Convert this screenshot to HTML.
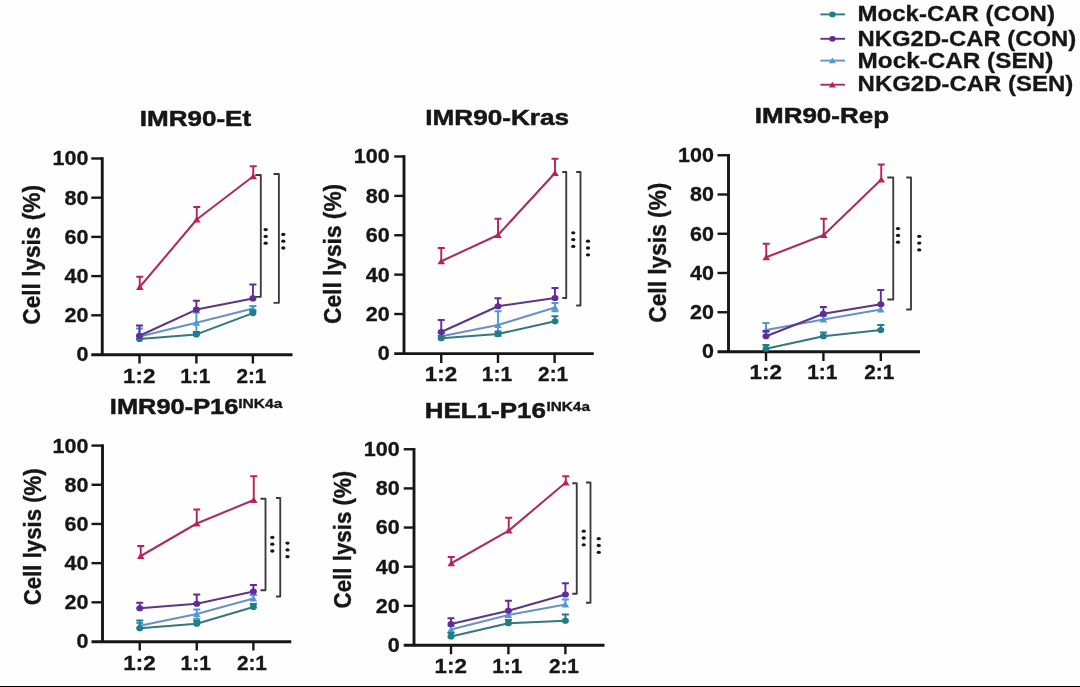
<!DOCTYPE html>
<html lang="en">
<head>
<meta charset="utf-8">
<title>Cell lysis (%) - CAR-T cytotoxicity panels</title>
<style>
  html, body { margin: 0; padding: 0; background: #fefefe; }
  body { width: 1080px; height: 687px; overflow: hidden; position: relative;
         font-family: "Liberation Sans", sans-serif; }
  svg { position: absolute; left: 0; top: 0; display: block; }
  svg text { font-family: "Liberation Sans", sans-serif; font-weight: bold; fill: #161616; stroke: #161616; stroke-width: 0.3px; }
  svg text.tt { stroke-width: 0.5px; }
  svg text.yl { stroke-width: 0.4px; }
  svg text.lg { stroke-width: 0.3px; }
  #chart { filter: blur(0.7px); }
  #rule { position: absolute; left: 0; top: 685.7px; width: 1080px; height: 1.3px; background: #000; }
</style>
</head>
<body>
<svg id="chart" width="1080" height="687" viewBox="0 0 1080 687">
<!-- panel IMR90-Et -->
<path d="M102.25 157.2 V355.8" stroke="#161616" stroke-width="2.9" fill="none"/>
<path d="M91.25 354.7 H292.5" stroke="#161616" stroke-width="2.9" fill="none"/>
<path d="M91.25 158.50 H102.25" stroke="#161616" stroke-width="2.4" fill="none"/>
<text x="52.51" y="165.4" font-size="19.3" text-anchor="start" textLength="35.87" lengthAdjust="spacingAndGlyphs">100</text>
<path d="M91.25 197.70 H102.25" stroke="#161616" stroke-width="2.4" fill="none"/>
<text x="64.49" y="204.6" font-size="19.3" text-anchor="start" textLength="23.92" lengthAdjust="spacingAndGlyphs">80</text>
<path d="M91.25 236.90 H102.25" stroke="#161616" stroke-width="2.4" fill="none"/>
<text x="64.49" y="243.8" font-size="19.3" text-anchor="start" textLength="23.92" lengthAdjust="spacingAndGlyphs">60</text>
<path d="M91.25 276.10 H102.25" stroke="#161616" stroke-width="2.4" fill="none"/>
<text x="64.49" y="283.0" font-size="19.3" text-anchor="start" textLength="23.92" lengthAdjust="spacingAndGlyphs">40</text>
<path d="M91.25 315.30 H102.25" stroke="#161616" stroke-width="2.4" fill="none"/>
<text x="64.49" y="322.2" font-size="19.3" text-anchor="start" textLength="23.92" lengthAdjust="spacingAndGlyphs">20</text>
<text x="76.43" y="361.4" font-size="19.3" text-anchor="start" textLength="11.96" lengthAdjust="spacingAndGlyphs">0</text>
<path d="M139.5 354.5 V363.5" stroke="#161616" stroke-width="2.4" fill="none"/>
<text x="123.1" y="382.9" font-size="19.3" text-anchor="start" textLength="32.3" lengthAdjust="spacingAndGlyphs">1:2</text>
<path d="M196.4 354.5 V363.5" stroke="#161616" stroke-width="2.4" fill="none"/>
<text x="180.19" y="382.9" font-size="19.3" text-anchor="start" textLength="30.29" lengthAdjust="spacingAndGlyphs">1:1</text>
<path d="M252.9 354.5 V363.5" stroke="#161616" stroke-width="2.4" fill="none"/>
<text x="236.42" y="382.9" font-size="19.3" text-anchor="start" textLength="30.01" lengthAdjust="spacingAndGlyphs">2:1</text>
<text x="139.79" y="126.2" font-size="21.9" text-anchor="start" textLength="111.3" lengthAdjust="spacingAndGlyphs" class="tt">IMR90-Et</text>
<text class="yl" transform="translate(40.0 324.65) rotate(-90)" font-size="24.6" textLength="139.57" lengthAdjust="spacingAndGlyphs">Cell lysis (%)</text>
<path d="M255.3 175 H260.8 V296.8 H255.3" fill="none" stroke-linejoin="round" stroke="#3a3a3a" stroke-width="1.85"/>
<path d="M273.5 174 H278.9 V302.8 H273.5" fill="none" stroke-linejoin="round" stroke="#3a3a3a" stroke-width="1.85"/>
<ellipse cx="265.7" cy="229.6" rx="2.15" ry="1.65" fill="#161616"/>
<ellipse cx="265.7" cy="236.4" rx="2.15" ry="1.65" fill="#161616"/>
<ellipse cx="265.7" cy="243.20000000000002" rx="2.15" ry="1.65" fill="#161616"/>
<ellipse cx="283.3" cy="234.39999999999998" rx="2.15" ry="1.65" fill="#161616"/>
<ellipse cx="283.3" cy="241.2" rx="2.15" ry="1.65" fill="#161616"/>
<ellipse cx="283.3" cy="248.0" rx="2.15" ry="1.65" fill="#161616"/>
<path d="M139.5 336.5 L196.4 322.8 L252.9 308.5" fill="none" stroke="#6892c0" stroke-width="2.05" stroke-linejoin="round"/>
<path d="M139.5 336.5 V328.5 M136.0 328.5 H143.0" fill="none" stroke="#4f99d2" stroke-width="1.9"/>
<path d="M196.4 322.8 V312.5 M192.9 312.5 H199.9" fill="none" stroke="#4f99d2" stroke-width="1.9"/>
<path d="M196.4 322.8 V332 M192.9 332 H199.9" fill="none" stroke="#4f99d2" stroke-width="1.9"/>
<path d="M252.9 308.5 V306 M249.4 306 H256.4" fill="none" stroke="#4f99d2" stroke-width="1.9"/>
<path d="M139.5 333.20 L143.30 339.50 L135.70 339.50 Z" fill="#4f99d2"/>
<path d="M196.4 319.50 L200.20 325.80 L192.60 325.80 Z" fill="#4f99d2"/>
<path d="M252.9 305.20 L256.70 311.50 L249.10 311.50 Z" fill="#4f99d2"/>
<path d="M139.5 339 L196.4 334.4 L252.9 313.1" fill="none" stroke="#34787b" stroke-width="2.05" stroke-linejoin="round"/>
<path d="M139.5 339 V336 M136.0 336 H143.0" fill="none" stroke="#1f7f88" stroke-width="1.9"/>
<path d="M196.4 334.4 V332 M192.9 332 H199.9" fill="none" stroke="#1f7f88" stroke-width="1.9"/>
<path d="M252.9 313.1 V310.5 M249.4 310.5 H256.4" fill="none" stroke="#1f7f88" stroke-width="1.9"/>
<ellipse cx="139.5" cy="339" rx="3.50" ry="3.10" fill="#1f7f88"/>
<ellipse cx="196.4" cy="334.4" rx="3.50" ry="3.10" fill="#1f7f88"/>
<ellipse cx="252.9" cy="313.1" rx="3.50" ry="3.10" fill="#1f7f88"/>
<path d="M139.5 335.75 L196.4 309.6 L252.9 298.4" fill="none" stroke="#5a3784" stroke-width="2.05" stroke-linejoin="round"/>
<path d="M139.5 335.75 V325.5 M136.0 325.5 H143.0" fill="none" stroke="#642a9a" stroke-width="1.9"/>
<path d="M196.4 309.6 V300.8 M192.9 300.8 H199.9" fill="none" stroke="#642a9a" stroke-width="1.9"/>
<path d="M252.9 298.4 V284.5 M249.4 284.5 H256.4" fill="none" stroke="#642a9a" stroke-width="1.9"/>
<ellipse cx="139.5" cy="335.75" rx="3.50" ry="3.10" fill="#642a9a"/>
<ellipse cx="196.4" cy="309.6" rx="3.50" ry="3.10" fill="#642a9a"/>
<ellipse cx="252.9" cy="298.4" rx="3.50" ry="3.10" fill="#642a9a"/>
<path d="M139.75 287 L196.75 219.5 L253.25 176.25" fill="none" stroke="#ab2c60" stroke-width="2.05" stroke-linejoin="round"/>
<path d="M139.75 287 V276.75 M136.25 276.75 H143.25" fill="none" stroke="#bc205a" stroke-width="1.9"/>
<path d="M196.75 219.5 V207 M193.25 207 H200.25" fill="none" stroke="#bc205a" stroke-width="1.9"/>
<path d="M253.25 176.25 V166.25 M249.75 166.25 H256.75" fill="none" stroke="#bc205a" stroke-width="1.9"/>
<path d="M139.75 283.70 L143.55 290.00 L135.95 290.00 Z" fill="#bc205a"/>
<path d="M196.75 216.20 L200.55 222.50 L192.95 222.50 Z" fill="#bc205a"/>
<path d="M253.25 172.95 L257.05 179.25 L249.45 179.25 Z" fill="#bc205a"/>
<!-- panel IMR90-Kras -->
<path d="M404 155.2 V354.7" stroke="#161616" stroke-width="2.9" fill="none"/>
<path d="M394.25 353.59999999999997 H593.75" stroke="#161616" stroke-width="2.9" fill="none"/>
<path d="M394.25 156.50 H404" stroke="#161616" stroke-width="2.4" fill="none"/>
<text x="353.76" y="163.4" font-size="19.3" text-anchor="start" textLength="35.87" lengthAdjust="spacingAndGlyphs">100</text>
<path d="M394.25 195.88 H404" stroke="#161616" stroke-width="2.4" fill="none"/>
<text x="365.74" y="202.78" font-size="19.3" text-anchor="start" textLength="23.92" lengthAdjust="spacingAndGlyphs">80</text>
<path d="M394.25 235.26 H404" stroke="#161616" stroke-width="2.4" fill="none"/>
<text x="365.74" y="242.16" font-size="19.3" text-anchor="start" textLength="23.92" lengthAdjust="spacingAndGlyphs">60</text>
<path d="M394.25 274.64 H404" stroke="#161616" stroke-width="2.4" fill="none"/>
<text x="365.74" y="281.54" font-size="19.3" text-anchor="start" textLength="23.92" lengthAdjust="spacingAndGlyphs">40</text>
<path d="M394.25 314.02 H404" stroke="#161616" stroke-width="2.4" fill="none"/>
<text x="365.74" y="320.92" font-size="19.3" text-anchor="start" textLength="23.92" lengthAdjust="spacingAndGlyphs">20</text>
<text x="377.68" y="360.3" font-size="19.3" text-anchor="start" textLength="11.96" lengthAdjust="spacingAndGlyphs">0</text>
<path d="M441.25 353.4 V363.0" stroke="#161616" stroke-width="2.4" fill="none"/>
<text x="424.85" y="381.3" font-size="19.3" text-anchor="start" textLength="32.3" lengthAdjust="spacingAndGlyphs">1:2</text>
<path d="M498 353.4 V363.0" stroke="#161616" stroke-width="2.4" fill="none"/>
<text x="481.79" y="381.3" font-size="19.3" text-anchor="start" textLength="30.29" lengthAdjust="spacingAndGlyphs">1:1</text>
<path d="M554.6 353.4 V363.0" stroke="#161616" stroke-width="2.4" fill="none"/>
<text x="538.12" y="381.3" font-size="19.3" text-anchor="start" textLength="30.01" lengthAdjust="spacingAndGlyphs">2:1</text>
<text x="425.29" y="125.2" font-size="21.9" text-anchor="start" textLength="143.81" lengthAdjust="spacingAndGlyphs" class="tt">IMR90-Kras</text>
<text class="yl" transform="translate(341.25 323.91) rotate(-90)" font-size="24.6" textLength="140.08" lengthAdjust="spacingAndGlyphs">Cell lysis (%)</text>
<path d="M562.3 172 H566.25 V298 H562.3" fill="none" stroke-linejoin="round" stroke="#3a3a3a" stroke-width="1.85"/>
<path d="M576.2 172 H580.5 V305.5 H576.2" fill="none" stroke-linejoin="round" stroke="#3a3a3a" stroke-width="1.85"/>
<ellipse cx="573.25" cy="232.79999999999998" rx="2.15" ry="1.65" fill="#161616"/>
<ellipse cx="573.25" cy="239.6" rx="2.15" ry="1.65" fill="#161616"/>
<ellipse cx="573.25" cy="246.4" rx="2.15" ry="1.65" fill="#161616"/>
<ellipse cx="588" cy="241.2" rx="2.15" ry="1.65" fill="#161616"/>
<ellipse cx="588" cy="248" rx="2.15" ry="1.65" fill="#161616"/>
<ellipse cx="588" cy="254.8" rx="2.15" ry="1.65" fill="#161616"/>
<path d="M441.25 336.25 L498 325 L555 307.5" fill="none" stroke="#6892c0" stroke-width="2.05" stroke-linejoin="round"/>
<path d="M441.25 336.25 V333 M437.75 333 H444.75" fill="none" stroke="#4f99d2" stroke-width="1.9"/>
<path d="M498 325 V311.2 M494.5 311.2 H501.5" fill="none" stroke="#4f99d2" stroke-width="1.9"/>
<path d="M498 325 V336 M494.5 336 H501.5" fill="none" stroke="#4f99d2" stroke-width="1.9"/>
<path d="M555 307.5 V303 M551.5 303 H558.5" fill="none" stroke="#4f99d2" stroke-width="1.9"/>
<path d="M555 307.5 V311.4 M551.5 311.4 H558.5" fill="none" stroke="#4f99d2" stroke-width="1.9"/>
<path d="M441.25 332.95 L445.05 339.25 L437.45 339.25 Z" fill="#4f99d2"/>
<path d="M498 321.70 L501.80 328.00 L494.20 328.00 Z" fill="#4f99d2"/>
<path d="M555 304.20 L558.80 310.50 L551.20 310.50 Z" fill="#4f99d2"/>
<path d="M441.25 338.25 L498 334 L555 321.25" fill="none" stroke="#34787b" stroke-width="2.05" stroke-linejoin="round"/>
<path d="M441.25 338.25 V336 M437.75 336 H444.75" fill="none" stroke="#1f7f88" stroke-width="1.9"/>
<path d="M498 334 V331.5 M494.5 331.5 H501.5" fill="none" stroke="#1f7f88" stroke-width="1.9"/>
<path d="M555 321.25 V316.25 M551.5 316.25 H558.5" fill="none" stroke="#1f7f88" stroke-width="1.9"/>
<ellipse cx="441.25" cy="338.25" rx="3.50" ry="3.10" fill="#1f7f88"/>
<ellipse cx="498" cy="334" rx="3.50" ry="3.10" fill="#1f7f88"/>
<ellipse cx="555" cy="321.25" rx="3.50" ry="3.10" fill="#1f7f88"/>
<path d="M441.25 332 L498 306.25 L555 298" fill="none" stroke="#5a3784" stroke-width="2.05" stroke-linejoin="round"/>
<path d="M441.25 332 V320 M437.75 320 H444.75" fill="none" stroke="#642a9a" stroke-width="1.9"/>
<path d="M498 306.25 V298.25 M494.5 298.25 H501.5" fill="none" stroke="#642a9a" stroke-width="1.9"/>
<path d="M555 298 V288 M551.5 288 H558.5" fill="none" stroke="#642a9a" stroke-width="1.9"/>
<ellipse cx="441.25" cy="332" rx="3.50" ry="3.10" fill="#642a9a"/>
<ellipse cx="498" cy="306.25" rx="3.50" ry="3.10" fill="#642a9a"/>
<ellipse cx="555" cy="298" rx="3.50" ry="3.10" fill="#642a9a"/>
<path d="M441.25 261.25 L498 235 L555 173" fill="none" stroke="#ab2c60" stroke-width="2.05" stroke-linejoin="round"/>
<path d="M441.25 261.25 V248 M437.75 248 H444.75" fill="none" stroke="#bc205a" stroke-width="1.9"/>
<path d="M498 235 V218.75 M494.5 218.75 H501.5" fill="none" stroke="#bc205a" stroke-width="1.9"/>
<path d="M555 173 V158.75 M551.5 158.75 H558.5" fill="none" stroke="#bc205a" stroke-width="1.9"/>
<path d="M441.25 257.95 L445.05 264.25 L437.45 264.25 Z" fill="#bc205a"/>
<path d="M498 231.70 L501.80 238.00 L494.20 238.00 Z" fill="#bc205a"/>
<path d="M555 169.70 L558.80 176.00 L551.20 176.00 Z" fill="#bc205a"/>
<!-- panel IMR90-Rep -->
<path d="M728.5 153.95 V352.8" stroke="#161616" stroke-width="2.9" fill="none"/>
<path d="M717.5 351.7 H920" stroke="#161616" stroke-width="2.9" fill="none"/>
<path d="M717.5 155.25 H728.5" stroke="#161616" stroke-width="2.4" fill="none"/>
<text x="678.01" y="162.15" font-size="19.3" text-anchor="start" textLength="35.87" lengthAdjust="spacingAndGlyphs">100</text>
<path d="M717.5 194.50 H728.5" stroke="#161616" stroke-width="2.4" fill="none"/>
<text x="689.99" y="201.4" font-size="19.3" text-anchor="start" textLength="23.92" lengthAdjust="spacingAndGlyphs">80</text>
<path d="M717.5 233.75 H728.5" stroke="#161616" stroke-width="2.4" fill="none"/>
<text x="689.99" y="240.65" font-size="19.3" text-anchor="start" textLength="23.92" lengthAdjust="spacingAndGlyphs">60</text>
<path d="M717.5 273.00 H728.5" stroke="#161616" stroke-width="2.4" fill="none"/>
<text x="689.99" y="279.9" font-size="19.3" text-anchor="start" textLength="23.92" lengthAdjust="spacingAndGlyphs">40</text>
<path d="M717.5 312.25 H728.5" stroke="#161616" stroke-width="2.4" fill="none"/>
<text x="689.99" y="319.15" font-size="19.3" text-anchor="start" textLength="23.92" lengthAdjust="spacingAndGlyphs">20</text>
<text x="701.93" y="358.4" font-size="19.3" text-anchor="start" textLength="11.96" lengthAdjust="spacingAndGlyphs">0</text>
<path d="M766 351.5 V361.0" stroke="#161616" stroke-width="2.4" fill="none"/>
<text x="749.6" y="379.3" font-size="19.3" text-anchor="start" textLength="32.3" lengthAdjust="spacingAndGlyphs">1:2</text>
<path d="M823.4 351.5 V361.0" stroke="#161616" stroke-width="2.4" fill="none"/>
<text x="807.19" y="379.3" font-size="19.3" text-anchor="start" textLength="30.29" lengthAdjust="spacingAndGlyphs">1:1</text>
<path d="M880.8 351.5 V361.0" stroke="#161616" stroke-width="2.4" fill="none"/>
<text x="864.32" y="379.3" font-size="19.3" text-anchor="start" textLength="30.01" lengthAdjust="spacingAndGlyphs">2:1</text>
<text x="754.8" y="123.2" font-size="21.9" text-anchor="start" textLength="134.25" lengthAdjust="spacingAndGlyphs" class="tt">IMR90-Rep</text>
<text class="yl" transform="translate(665.5 322.66) rotate(-90)" font-size="24.6" textLength="140.08" lengthAdjust="spacingAndGlyphs">Cell lysis (%)</text>
<path d="M887.3 177.5 H893.25 V299.5 H887.3" fill="none" stroke-linejoin="round" stroke="#3a3a3a" stroke-width="1.85"/>
<path d="M906.25 177.5 H911 V309.5 H906.25" fill="none" stroke-linejoin="round" stroke="#3a3a3a" stroke-width="1.85"/>
<ellipse cx="898" cy="228.6" rx="2.15" ry="1.65" fill="#161616"/>
<ellipse cx="898" cy="235.4" rx="2.15" ry="1.65" fill="#161616"/>
<ellipse cx="898" cy="242.20000000000002" rx="2.15" ry="1.65" fill="#161616"/>
<ellipse cx="919.25" cy="236.29999999999998" rx="2.15" ry="1.65" fill="#161616"/>
<ellipse cx="919.25" cy="243.1" rx="2.15" ry="1.65" fill="#161616"/>
<ellipse cx="919.25" cy="249.9" rx="2.15" ry="1.65" fill="#161616"/>
<path d="M766 330 L823.4 319.5 L880.8 309.5" fill="none" stroke="#6892c0" stroke-width="2.05" stroke-linejoin="round"/>
<path d="M766 330 V323 M762.5 323 H769.5" fill="none" stroke="#4f99d2" stroke-width="1.9"/>
<path d="M823.4 319.5 V316 M819.9 316 H826.9" fill="none" stroke="#4f99d2" stroke-width="1.9"/>
<path d="M880.8 309.5 V305 M877.3 305 H884.3" fill="none" stroke="#4f99d2" stroke-width="1.9"/>
<path d="M766 326.70 L769.80 333.00 L762.20 333.00 Z" fill="#4f99d2"/>
<path d="M823.4 316.20 L827.20 322.50 L819.60 322.50 Z" fill="#4f99d2"/>
<path d="M880.8 306.20 L884.60 312.50 L877.00 312.50 Z" fill="#4f99d2"/>
<path d="M766 348.75 L823.4 336.25 L880.8 330" fill="none" stroke="#34787b" stroke-width="2.05" stroke-linejoin="round"/>
<path d="M766 348.75 V345 M762.5 345 H769.5" fill="none" stroke="#1f7f88" stroke-width="1.9"/>
<path d="M823.4 336.25 V332.5 M819.9 332.5 H826.9" fill="none" stroke="#1f7f88" stroke-width="1.9"/>
<path d="M880.8 330 V325 M877.3 325 H884.3" fill="none" stroke="#1f7f88" stroke-width="1.9"/>
<ellipse cx="766" cy="348.75" rx="3.50" ry="3.10" fill="#1f7f88"/>
<ellipse cx="823.4" cy="336.25" rx="3.50" ry="3.10" fill="#1f7f88"/>
<ellipse cx="880.8" cy="330" rx="3.50" ry="3.10" fill="#1f7f88"/>
<path d="M766 336.25 L823.4 313.75 L880.8 304.25" fill="none" stroke="#5a3784" stroke-width="2.05" stroke-linejoin="round"/>
<path d="M766 336.25 V331 M762.5 331 H769.5" fill="none" stroke="#642a9a" stroke-width="1.9"/>
<path d="M823.4 313.75 V307 M819.9 307 H826.9" fill="none" stroke="#642a9a" stroke-width="1.9"/>
<path d="M880.8 304.25 V290 M877.3 290 H884.3" fill="none" stroke="#642a9a" stroke-width="1.9"/>
<ellipse cx="766" cy="336.25" rx="3.50" ry="3.10" fill="#642a9a"/>
<ellipse cx="823.4" cy="313.75" rx="3.50" ry="3.10" fill="#642a9a"/>
<ellipse cx="880.8" cy="304.25" rx="3.50" ry="3.10" fill="#642a9a"/>
<path d="M766.25 257.25 L823.75 235 L881.25 179.5" fill="none" stroke="#ab2c60" stroke-width="2.05" stroke-linejoin="round"/>
<path d="M766.25 257.25 V243.75 M762.75 243.75 H769.75" fill="none" stroke="#bc205a" stroke-width="1.9"/>
<path d="M823.75 235 V218.75 M820.25 218.75 H827.25" fill="none" stroke="#bc205a" stroke-width="1.9"/>
<path d="M881.25 179.5 V164.5 M877.75 164.5 H884.75" fill="none" stroke="#bc205a" stroke-width="1.9"/>
<path d="M766.25 253.95 L770.05 260.25 L762.45 260.25 Z" fill="#bc205a"/>
<path d="M823.75 231.70 L827.55 238.00 L819.95 238.00 Z" fill="#bc205a"/>
<path d="M881.25 176.20 L885.05 182.50 L877.45 182.50 Z" fill="#bc205a"/>
<!-- panel IMR90-P16 -->
<path d="M102.5 444.3 V642.8" stroke="#161616" stroke-width="2.9" fill="none"/>
<path d="M91.5 641.7 H291.25" stroke="#161616" stroke-width="2.9" fill="none"/>
<path d="M91.5 445.60 H102.5" stroke="#161616" stroke-width="2.4" fill="none"/>
<text x="52.51" y="452.5" font-size="19.3" text-anchor="start" textLength="35.87" lengthAdjust="spacingAndGlyphs">100</text>
<path d="M91.5 484.78 H102.5" stroke="#161616" stroke-width="2.4" fill="none"/>
<text x="64.49" y="491.68" font-size="19.3" text-anchor="start" textLength="23.92" lengthAdjust="spacingAndGlyphs">80</text>
<path d="M91.5 523.96 H102.5" stroke="#161616" stroke-width="2.4" fill="none"/>
<text x="64.49" y="530.86" font-size="19.3" text-anchor="start" textLength="23.92" lengthAdjust="spacingAndGlyphs">60</text>
<path d="M91.5 563.14 H102.5" stroke="#161616" stroke-width="2.4" fill="none"/>
<text x="64.49" y="570.04" font-size="19.3" text-anchor="start" textLength="23.92" lengthAdjust="spacingAndGlyphs">40</text>
<path d="M91.5 602.32 H102.5" stroke="#161616" stroke-width="2.4" fill="none"/>
<text x="64.49" y="609.22" font-size="19.3" text-anchor="start" textLength="23.92" lengthAdjust="spacingAndGlyphs">20</text>
<text x="76.43" y="648.4" font-size="19.3" text-anchor="start" textLength="11.96" lengthAdjust="spacingAndGlyphs">0</text>
<path d="M139.75 641.5 V650.5" stroke="#161616" stroke-width="2.4" fill="none"/>
<text x="123.35" y="670.0" font-size="19.3" text-anchor="start" textLength="32.3" lengthAdjust="spacingAndGlyphs">1:2</text>
<path d="M196.75 641.5 V650.5" stroke="#161616" stroke-width="2.4" fill="none"/>
<text x="180.54" y="670.0" font-size="19.3" text-anchor="start" textLength="30.29" lengthAdjust="spacingAndGlyphs">1:1</text>
<path d="M253.4 641.5 V650.5" stroke="#161616" stroke-width="2.4" fill="none"/>
<text x="236.92" y="670.0" font-size="19.3" text-anchor="start" textLength="30.01" lengthAdjust="spacingAndGlyphs">2:1</text>
<text x="109.83" y="413.9" font-size="21.9" text-anchor="start" textLength="128.56" lengthAdjust="spacingAndGlyphs" class="tt">IMR90-P16</text>
<text x="238.2" y="408.0" font-size="12.4" text-anchor="start" textLength="44.22" lengthAdjust="spacingAndGlyphs">INK4a</text>
<text class="yl" transform="translate(40.5 605.14) rotate(-90)" font-size="24.6" textLength="136.78" lengthAdjust="spacingAndGlyphs">Cell lysis (%)</text>
<path d="M260.5 498.75 H265.5 V590.25 H260.5" fill="none" stroke-linejoin="round" stroke="#3a3a3a" stroke-width="1.85"/>
<path d="M276 498 H280.25 V596.5 H276" fill="none" stroke-linejoin="round" stroke="#3a3a3a" stroke-width="1.85"/>
<ellipse cx="272.3" cy="537.4000000000001" rx="2.15" ry="1.65" fill="#161616"/>
<ellipse cx="272.3" cy="544.2" rx="2.15" ry="1.65" fill="#161616"/>
<ellipse cx="272.3" cy="551.0" rx="2.15" ry="1.65" fill="#161616"/>
<ellipse cx="287.5" cy="543.1" rx="2.15" ry="1.65" fill="#161616"/>
<ellipse cx="287.5" cy="549.9" rx="2.15" ry="1.65" fill="#161616"/>
<ellipse cx="287.5" cy="556.6999999999999" rx="2.15" ry="1.65" fill="#161616"/>
<path d="M139.75 625.75 L196.75 614 L253.4 598.5" fill="none" stroke="#6892c0" stroke-width="2.05" stroke-linejoin="round"/>
<path d="M139.75 625.75 V623 M136.25 623 H143.25" fill="none" stroke="#4f99d2" stroke-width="1.9"/>
<path d="M196.75 614 V609.5 M193.25 609.5 H200.25" fill="none" stroke="#4f99d2" stroke-width="1.9"/>
<path d="M196.75 614 V619 M193.25 619 H200.25" fill="none" stroke="#4f99d2" stroke-width="1.9"/>
<path d="M253.4 598.5 V595 M249.9 595 H256.9" fill="none" stroke="#4f99d2" stroke-width="1.9"/>
<path d="M139.75 622.45 L143.55 628.75 L135.95 628.75 Z" fill="#4f99d2"/>
<path d="M196.75 610.70 L200.55 617.00 L192.95 617.00 Z" fill="#4f99d2"/>
<path d="M253.4 595.20 L257.20 601.50 L249.60 601.50 Z" fill="#4f99d2"/>
<path d="M139.75 628.25 L196.75 623.75 L253.4 607" fill="none" stroke="#34787b" stroke-width="2.05" stroke-linejoin="round"/>
<path d="M139.75 628.25 V620.5 M136.25 620.5 H143.25" fill="none" stroke="#1f7f88" stroke-width="1.9"/>
<path d="M196.75 623.75 V621 M193.25 621 H200.25" fill="none" stroke="#1f7f88" stroke-width="1.9"/>
<path d="M253.4 607 V604 M249.9 604 H256.9" fill="none" stroke="#1f7f88" stroke-width="1.9"/>
<ellipse cx="139.75" cy="628.25" rx="3.50" ry="3.10" fill="#1f7f88"/>
<ellipse cx="196.75" cy="623.75" rx="3.50" ry="3.10" fill="#1f7f88"/>
<ellipse cx="253.4" cy="607" rx="3.50" ry="3.10" fill="#1f7f88"/>
<path d="M139.75 608.25 L196.75 603.75 L253.4 591.5" fill="none" stroke="#5a3784" stroke-width="2.05" stroke-linejoin="round"/>
<path d="M139.75 608.25 V602.75 M136.25 602.75 H143.25" fill="none" stroke="#642a9a" stroke-width="1.9"/>
<path d="M196.75 603.75 V594.5 M193.25 594.5 H200.25" fill="none" stroke="#642a9a" stroke-width="1.9"/>
<path d="M253.4 591.5 V585 M249.9 585 H256.9" fill="none" stroke="#642a9a" stroke-width="1.9"/>
<ellipse cx="139.75" cy="608.25" rx="3.50" ry="3.10" fill="#642a9a"/>
<ellipse cx="196.75" cy="603.75" rx="3.50" ry="3.10" fill="#642a9a"/>
<ellipse cx="253.4" cy="591.5" rx="3.50" ry="3.10" fill="#642a9a"/>
<path d="M140.75 556 L196.75 523.5 L253.75 500" fill="none" stroke="#ab2c60" stroke-width="2.05" stroke-linejoin="round"/>
<path d="M140.75 556 V546 M137.25 546 H144.25" fill="none" stroke="#bc205a" stroke-width="1.9"/>
<path d="M196.75 523.5 V509.5 M193.25 509.5 H200.25" fill="none" stroke="#bc205a" stroke-width="1.9"/>
<path d="M253.75 500 V476.25 M250.25 476.25 H257.25" fill="none" stroke="#bc205a" stroke-width="1.9"/>
<path d="M140.75 552.70 L144.55 559.00 L136.95 559.00 Z" fill="#bc205a"/>
<path d="M196.75 520.20 L200.55 526.50 L192.95 526.50 Z" fill="#bc205a"/>
<path d="M253.75 496.70 L257.55 503.00 L249.95 503.00 Z" fill="#bc205a"/>
<!-- panel HEL1-P16 -->
<path d="M414 447.95 V646.3" stroke="#161616" stroke-width="2.9" fill="none"/>
<path d="M403.75 645.2 H604.5" stroke="#161616" stroke-width="2.9" fill="none"/>
<path d="M403.75 449.25 H414" stroke="#161616" stroke-width="2.4" fill="none"/>
<text x="363.76" y="456.15" font-size="19.3" text-anchor="start" textLength="35.87" lengthAdjust="spacingAndGlyphs">100</text>
<path d="M403.75 488.40 H414" stroke="#161616" stroke-width="2.4" fill="none"/>
<text x="375.74" y="495.3" font-size="19.3" text-anchor="start" textLength="23.92" lengthAdjust="spacingAndGlyphs">80</text>
<path d="M403.75 527.55 H414" stroke="#161616" stroke-width="2.4" fill="none"/>
<text x="375.74" y="534.45" font-size="19.3" text-anchor="start" textLength="23.92" lengthAdjust="spacingAndGlyphs">60</text>
<path d="M403.75 566.70 H414" stroke="#161616" stroke-width="2.4" fill="none"/>
<text x="375.74" y="573.6" font-size="19.3" text-anchor="start" textLength="23.92" lengthAdjust="spacingAndGlyphs">40</text>
<path d="M403.75 605.85 H414" stroke="#161616" stroke-width="2.4" fill="none"/>
<text x="375.74" y="612.75" font-size="19.3" text-anchor="start" textLength="23.92" lengthAdjust="spacingAndGlyphs">20</text>
<text x="387.68" y="651.9" font-size="19.3" text-anchor="start" textLength="11.96" lengthAdjust="spacingAndGlyphs">0</text>
<path d="M451 645 V654.25" stroke="#161616" stroke-width="2.4" fill="none"/>
<text x="434.6" y="672.6" font-size="19.3" text-anchor="start" textLength="32.3" lengthAdjust="spacingAndGlyphs">1:2</text>
<path d="M508.4 645 V654.25" stroke="#161616" stroke-width="2.4" fill="none"/>
<text x="492.19" y="672.6" font-size="19.3" text-anchor="start" textLength="30.29" lengthAdjust="spacingAndGlyphs">1:1</text>
<path d="M565.4 645 V654.25" stroke="#161616" stroke-width="2.4" fill="none"/>
<text x="548.92" y="672.6" font-size="19.3" text-anchor="start" textLength="30.01" lengthAdjust="spacingAndGlyphs">2:1</text>
<text x="424.8" y="417.7" font-size="21.9" text-anchor="start" textLength="121.14" lengthAdjust="spacingAndGlyphs" class="tt">HEL1-P16</text>
<text x="546.47" y="410.5" font-size="12.4" text-anchor="start" textLength="43.45" lengthAdjust="spacingAndGlyphs">INK4a</text>
<text class="yl" transform="translate(350.75 608.39) rotate(-90)" font-size="24.6" textLength="137.54" lengthAdjust="spacingAndGlyphs">Cell lysis (%)</text>
<path d="M572.3 483.25 H576.75 V593.75 H572.3" fill="none" stroke-linejoin="round" stroke="#3a3a3a" stroke-width="1.85"/>
<path d="M586 482.5 H590.5 V602.75 H586" fill="none" stroke-linejoin="round" stroke="#3a3a3a" stroke-width="1.85"/>
<ellipse cx="583.75" cy="531.2" rx="2.15" ry="1.65" fill="#161616"/>
<ellipse cx="583.75" cy="538" rx="2.15" ry="1.65" fill="#161616"/>
<ellipse cx="583.75" cy="544.8" rx="2.15" ry="1.65" fill="#161616"/>
<ellipse cx="598.75" cy="538.7" rx="2.15" ry="1.65" fill="#161616"/>
<ellipse cx="598.75" cy="545.5" rx="2.15" ry="1.65" fill="#161616"/>
<ellipse cx="598.75" cy="552.3" rx="2.15" ry="1.65" fill="#161616"/>
<path d="M451 629.5 L508.4 615 L565.4 604.5" fill="none" stroke="#6892c0" stroke-width="2.05" stroke-linejoin="round"/>
<path d="M451 629.5 V626 M447.5 626 H454.5" fill="none" stroke="#4f99d2" stroke-width="1.9"/>
<path d="M508.4 615 V611 M504.9 611 H511.9" fill="none" stroke="#4f99d2" stroke-width="1.9"/>
<path d="M565.4 604.5 V599.5 M561.9 599.5 H568.9" fill="none" stroke="#4f99d2" stroke-width="1.9"/>
<path d="M451 626.20 L454.80 632.50 L447.20 632.50 Z" fill="#4f99d2"/>
<path d="M508.4 611.70 L512.20 618.00 L504.60 618.00 Z" fill="#4f99d2"/>
<path d="M565.4 601.20 L569.20 607.50 L561.60 607.50 Z" fill="#4f99d2"/>
<path d="M451 636.5 L508.4 623.25 L565.4 620.75" fill="none" stroke="#34787b" stroke-width="2.05" stroke-linejoin="round"/>
<path d="M451 636.5 V633 M447.5 633 H454.5" fill="none" stroke="#1f7f88" stroke-width="1.9"/>
<path d="M508.4 623.25 V620 M504.9 620 H511.9" fill="none" stroke="#1f7f88" stroke-width="1.9"/>
<path d="M565.4 620.75 V614.5 M561.9 614.5 H568.9" fill="none" stroke="#1f7f88" stroke-width="1.9"/>
<ellipse cx="451" cy="636.5" rx="3.50" ry="3.10" fill="#1f7f88"/>
<ellipse cx="508.4" cy="623.25" rx="3.50" ry="3.10" fill="#1f7f88"/>
<ellipse cx="565.4" cy="620.75" rx="3.50" ry="3.10" fill="#1f7f88"/>
<path d="M451 624 L508.4 610.75 L565.4 594.5" fill="none" stroke="#5a3784" stroke-width="2.05" stroke-linejoin="round"/>
<path d="M451 624 V618.25 M447.5 618.25 H454.5" fill="none" stroke="#642a9a" stroke-width="1.9"/>
<path d="M508.4 610.75 V600.75 M504.9 600.75 H511.9" fill="none" stroke="#642a9a" stroke-width="1.9"/>
<path d="M565.4 594.5 V583.25 M561.9 583.25 H568.9" fill="none" stroke="#642a9a" stroke-width="1.9"/>
<ellipse cx="451" cy="624" rx="3.50" ry="3.10" fill="#642a9a"/>
<ellipse cx="508.4" cy="610.75" rx="3.50" ry="3.10" fill="#642a9a"/>
<ellipse cx="565.4" cy="594.5" rx="3.50" ry="3.10" fill="#642a9a"/>
<path d="M451.25 563.25 L508.75 530.6 L565.75 482.5" fill="none" stroke="#ab2c60" stroke-width="2.05" stroke-linejoin="round"/>
<path d="M451.25 563.25 V557 M447.75 557 H454.75" fill="none" stroke="#bc205a" stroke-width="1.9"/>
<path d="M508.75 530.6 V517.75 M505.25 517.75 H512.25" fill="none" stroke="#bc205a" stroke-width="1.9"/>
<path d="M565.75 482.5 V476.25 M562.25 476.25 H569.25" fill="none" stroke="#bc205a" stroke-width="1.9"/>
<path d="M451.25 559.95 L455.05 566.25 L447.45 566.25 Z" fill="#bc205a"/>
<path d="M508.75 527.30 L512.55 533.60 L504.95 533.60 Z" fill="#bc205a"/>
<path d="M565.75 479.20 L569.55 485.50 L561.95 485.50 Z" fill="#bc205a"/>
<!-- legend -->
<path d="M820.4 14.4 H845" stroke="#34787b" stroke-width="1.9" fill="none"/>
<ellipse cx="832.4" cy="14.4" rx="3.22" ry="2.85" fill="#1f7f88"/>
<text x="857.63" y="21.2" font-size="22.4" text-anchor="start" textLength="197.31" lengthAdjust="spacingAndGlyphs" class="lg">Mock-CAR (CON)</text>
<path d="M820.4 38.8 H845" stroke="#5a3784" stroke-width="1.9" fill="none"/>
<ellipse cx="832.4" cy="38.8" rx="3.22" ry="2.85" fill="#642a9a"/>
<text x="857.64" y="45.5" font-size="22.4" text-anchor="start" textLength="218.58" lengthAdjust="spacingAndGlyphs" class="lg">NKG2D-CAR (CON)</text>
<path d="M820.4 60.6 H845" stroke="#6892c0" stroke-width="1.9" fill="none"/>
<path d="M832.4 57.56 L835.90 63.36 L828.90 63.36 Z" fill="#4f99d2"/>
<text x="857.61" y="67.5" font-size="22.4" text-anchor="start" textLength="195.62" lengthAdjust="spacingAndGlyphs" class="lg">Mock-CAR (SEN)</text>
<path d="M820.4 84.7 H845" stroke="#ab2c60" stroke-width="1.9" fill="none"/>
<path d="M832.4 81.66 L835.90 87.46 L828.90 87.46 Z" fill="#bc205a"/>
<text x="857.63" y="91.2" font-size="22.4" text-anchor="start" textLength="215.57" lengthAdjust="spacingAndGlyphs" class="lg">NKG2D-CAR (SEN)</text>
</svg>
<div id="rule"></div>
</body>
</html>
